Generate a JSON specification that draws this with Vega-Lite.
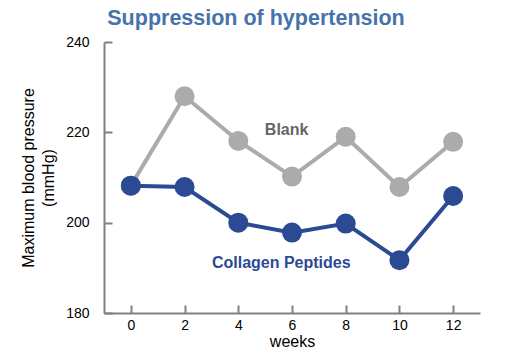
{
  "$schema": "https://vega.github.io/schema/vega-lite/v6.json",
  "width": 376,
  "height": 271,
  "autosize": {"type": "none"},
  "padding": {"left": 104, "top": 42, "right": 26, "bottom": 47},
  "background": "white",
  "title": {
    "text": "Suppression of hypertension",
    "font": "Liberation Sans",
    "fontSize": 21.5,
    "fontWeight": "bold",
    "color": "#4673AB",
    "anchor": "middle",
    "dx": -36,
    "offset": 6
  },
  "config": {
    "view": {"stroke": null},
    "font": "Liberation Sans",
    "axis": {
      "grid": false,
      "domainColor": "#808080",
      "domainWidth": 2,
      "tickColor": "#808080",
      "tickWidth": 2,
      "tickSize": -8,
      "labelColor": "#000000",
      "labelFontSize": 14,
      "labelFont": "Liberation Sans",
      "titleFont": "Liberation Sans",
      "titleFontWeight": "normal",
      "titleColor": "#000000",
      "titleFontSize": 16
    }
  },
  "datasets": {
    "bp": [
      {"week": 0, "value": 208.2, "series": "Blank"},
      {"week": 2, "value": 228.0, "series": "Blank"},
      {"week": 4, "value": 218.1, "series": "Blank"},
      {"week": 6, "value": 210.2, "series": "Blank"},
      {"week": 8, "value": 219.0, "series": "Blank"},
      {"week": 10, "value": 207.9, "series": "Blank"},
      {"week": 12, "value": 217.9, "series": "Blank"},
      {"week": 0, "value": 208.2, "series": "Collagen Peptides"},
      {"week": 2, "value": 207.9, "series": "Collagen Peptides"},
      {"week": 4, "value": 200.0, "series": "Collagen Peptides"},
      {"week": 6, "value": 197.8, "series": "Collagen Peptides"},
      {"week": 8, "value": 199.8, "series": "Collagen Peptides"},
      {"week": 10, "value": 191.7, "series": "Collagen Peptides"},
      {"week": 12, "value": 205.9, "series": "Collagen Peptides"}
    ],
    "labels": [
      {"week": 5.8, "value": 220.5, "series": "Blank"},
      {"week": 5.6, "value": 191.0, "series": "Collagen Peptides"}
    ]
  },
  "encoding": {
    "x": {
      "field": "week",
      "type": "quantitative",
      "scale": {"domain": [-1, 13], "nice": false, "zero": false},
      "axis": {"values": [0, 2, 4, 6, 8, 10, 12], "title": "weeks", "labelPadding": 13, "titlePadding": 1}
    },
    "y": {
      "field": "value",
      "type": "quantitative",
      "scale": {"domain": [180, 240], "nice": false, "zero": false},
      "axis": {"values": [180, 200, 220, 240], "title": ["Maximum blood pressure", "(mmHg)"], "titleLineHeight": 20, "labelPadding": 23, "titlePadding": 9}
    },
    "color": {
      "field": "series",
      "type": "nominal",
      "scale": {"domain": ["Blank", "Collagen Peptides"], "range": ["#ABABAB", "#2B4A93"]},
      "legend": null
    }
  },
  "layer": [
    {"data": {"name": "bp"}, "transform": [{"filter": "datum.series === 'Blank'"}], "mark": {"type": "line", "strokeWidth": 4}},
    {"data": {"name": "bp"}, "transform": [{"filter": "datum.series === 'Blank'"}], "mark": {"type": "point", "filled": true, "opacity": 1, "size": 400}},
    {"data": {"name": "bp"}, "transform": [{"filter": "datum.series === 'Collagen Peptides'"}], "mark": {"type": "line", "strokeWidth": 4}},
    {"data": {"name": "bp"}, "transform": [{"filter": "datum.series === 'Collagen Peptides'"}], "mark": {"type": "point", "filled": true, "opacity": 1, "size": 400}},
    {
      "data": {"name": "labels"},
      "mark": {"type": "text", "fontSize": 16, "fontWeight": "bold", "font": "Liberation Sans"},
      "encoding": {
        "text": {"field": "series"},
        "color": {
          "field": "series",
          "type": "nominal",
          "scale": {"domain": ["Blank", "Collagen Peptides"], "range": ["#666666", "#2B4A93"]},
          "legend": null
        }
      }
    }
  ],
  "resolve": {"scale": {"color": "independent"}}
}
